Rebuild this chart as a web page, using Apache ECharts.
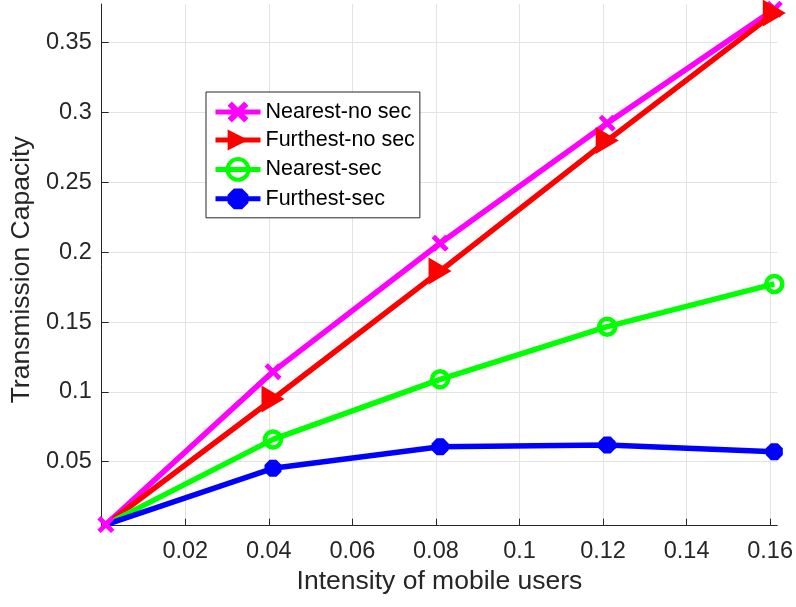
<!DOCTYPE html>
<html>
<head>
<meta charset="utf-8">
<script src="https://cdn.jsdelivr.net/npm/echarts@6/dist/echarts.min.js"></script>
<style>
html,body{margin:0;padding:0;background:#fff;}
#chart{width:796px;height:607px;}
</style>
</head>
<body>
<div id="chart"></div>
<script>
// Data
const xValues = [0.001, 0.041, 0.081, 0.121, 0.161];
const nearestNoSec = [0.005, 0.1145, 0.2064, 0.2924, 0.374];
const furthestNoSec = [0.005, 0.0949, 0.1865, 0.2799, 0.3712];
const nearestSec = [0.005, 0.066, 0.109, 0.1467, 0.1773];
const furthestSec = [0.005, 0.0453, 0.0607, 0.062, 0.0572];
const seriesNames = ['Nearest-no sec', 'Furthest-no sec', 'Nearest-sec', 'Furthest-sec'];
const xTicks = [0.02, 0.04, 0.06, 0.08, 0.1, 0.12, 0.14, 0.16];
const yTicks = [0.05, 0.1, 0.15, 0.2, 0.25, 0.3, 0.35];

const FONT = '"Liberation Sans", Arial, Helvetica, sans-serif';
const AXIS_COLOR = '#262626';
const GRID_COLOR = '#e3e3e3';

const xSymbol = 'path://M0,4 L4,0 L10,6 L16,0 L20,4 L14,10 L20,16 L16,20 L10,14 L4,20 L0,16 L6,10 Z';
const triSymbol = 'path://M0,0 L22,12.5 L0,25 Z';
const octSymbol = 'path://M6,0 L14,0 L20,6 L20,14 L14,20 L6,20 L0,14 L0,6 Z';

function pairs(ys, hideFirst) {
  return xValues.map((x, i) => {
    if (i === 0 && hideFirst) return { value: [x, ys[i]], symbol: 'none' };
    return [x, ys[i]];
  });
}

const chart = echarts.init(document.getElementById('chart'), null, { renderer: 'canvas' });
const fmt = v => String(+v.toFixed(4));

chart.setOption({
  animation: false,
  backgroundColor: '#fff',
  grid: { left: 101.7, right: 16, top: 4, bottom: 81.3, containLabel: false },
  legend: {
    left: 206, top: 92,
    orient: 'vertical',
    padding: [9, 5, 8, 7],
    itemWidth: 45, itemHeight: 26, itemGap: 6,
    backgroundColor: '#fff',
    borderColor: AXIS_COLOR, borderWidth: 1, borderRadius: 0,
    textStyle: { fontFamily: FONT, fontSize: 21.5, color: '#000', lineHeight: 22 },
    lineStyle: { width: 5 },
    data: [
      { name: seriesNames[0] },
      { name: seriesNames[1] },
      { name: seriesNames[2], itemStyle: { color: 'rgba(255,255,255,0)', borderColor: '#00ff00', borderWidth: 4 } },
      { name: seriesNames[3] }
    ]
  },
  xAxis: {
    type: 'value', min: 0, max: 0.1617,
    name: 'Intensity of mobile users', nameLocation: 'middle', nameGap: 42,
    nameTextStyle: { fontFamily: FONT, fontSize: 26.5, color: AXIS_COLOR },
    axisLine: { show: true, onZero: false, lineStyle: { color: AXIS_COLOR, width: 1 } },
    axisTick: { show: true, inside: true, length: 7, customValues: xTicks, lineStyle: { color: AXIS_COLOR } },
    axisLabel: { customValues: xTicks, formatter: fmt, fontFamily: FONT, fontSize: 23.5, color: AXIS_COLOR, margin: 14 },
    splitLine: { show: true, lineStyle: { color: GRID_COLOR, width: 1 } }
  },
  yAxis: {
    type: 'value', min: 0.0042, max: 0.3777,
    name: 'Transmission Capacity', nameLocation: 'middle', nameGap: 57,
    nameTextStyle: { fontFamily: FONT, fontSize: 26.5, color: AXIS_COLOR, padding: [0, 10, 0, 0] },
    axisLine: { show: true, onZero: false, lineStyle: { color: AXIS_COLOR, width: 1 } },
    axisTick: { show: true, inside: true, length: 7, customValues: yTicks, lineStyle: { color: AXIS_COLOR } },
    axisLabel: { customValues: yTicks, formatter: fmt, fontFamily: FONT, fontSize: 23.5, color: AXIS_COLOR, margin: 10 },
    splitLine: { show: true, lineStyle: { color: GRID_COLOR, width: 1 } }
  },
  series: [
    {
      name: seriesNames[0], type: 'line', data: pairs(nearestNoSec, false), clip: false,
      symbol: xSymbol, symbolSize: 17,
      lineStyle: { color: '#ff00ff', width: 5.5 },
      itemStyle: { color: '#ff00ff' }
    },
    {
      name: seriesNames[1], type: 'line', data: pairs(furthestNoSec, true), clip: false,
      symbol: triSymbol, symbolSize: [23, 27],
      lineStyle: { color: '#ff0000', width: 5.5 },
      itemStyle: { color: '#ff0000' }
    },
    {
      name: seriesNames[2], type: 'line', data: pairs(nearestSec, true), clip: false,
      symbol: 'circle', symbolSize: 16,
      lineStyle: { color: '#00ff00', width: 5.5 },
      itemStyle: { color: 'rgba(255,255,255,0)', borderColor: '#00ff00', borderWidth: 4.5 }
    },
    {
      name: seriesNames[3], type: 'line', data: pairs(furthestSec, true), clip: false,
      symbol: octSymbol, symbolSize: 17,
      lineStyle: { color: '#0000ff', width: 5.5 },
      itemStyle: { color: '#0000ff' }
    }
  ]
});
</script>
</body>
</html>
